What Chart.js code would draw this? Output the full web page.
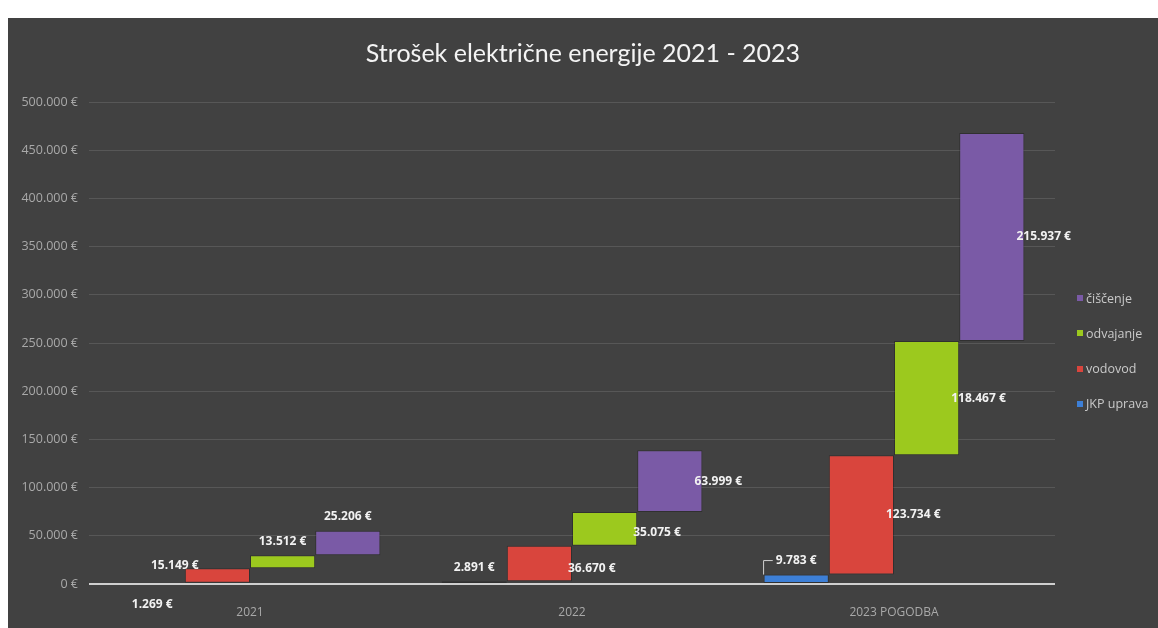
<!DOCTYPE html>
<html>
<head>
<meta charset="utf-8">
<script src="https://cdn.jsdelivr.net/npm/chart.js@4.4.1/dist/chart.umd.min.js"></script>
<style>
  body { margin: 0; background: #ffffff; width: 1158px; height: 628px; overflow: hidden; }
  #frame { position: absolute; left: 8px; top: 18px; width: 1150px; height: 610px; background: #414141; }
  #costChart { position: absolute; left: 0; top: 0; }
  #costChart-title { position: absolute; left: 0; top: 18px; width: 1150px; text-align: center; font-family: Lato, sans-serif; font-size: 25px; line-height: 32px; color: #f4f4f4; }
  #costChart-legend { position: absolute; left: 1069px; top: 272px; font-family: 'Open Sans', sans-serif; font-size: 12.5px; color: #c9c9c9; }
  #costChart-legend div { display: flex; align-items: center; height: 16px; margin-bottom: 19.3px; }
  #costChart-legend span.box { width: 6px; height: 6px; margin-right: 3px; }
</style>
</head>
<body>
<div id="frame">
  <canvas id="costChart" width="1150" height="610"></canvas>
  <div id="costChart-title">Strošek električne energije 2021 - 2023</div>
  <div id="costChart-legend"></div>
</div>
<script>
// Data
const categories = ['2021', '2022', '2023 POGODBA'];
const seriesNames = ['JKP uprava', 'vodovod', 'odvajanje', 'čiščenje'];
const jkpUprava = [1269, 2891, 9783];
const vodovod = [15149, 36670, 123734];
const odvajanje = [13512, 35075, 118467];
const ciscenje = [25206, 63999, 215937];
const yMax = 500000;
const yStep = 50000;

const seriesValues = [jkpUprava, vodovod, odvajanje, ciscenje];
const seriesColors = ['#3d7fd6', '#d9453d', '#9cc91e', '#7a5aa6'];

// where each value label sits (per series, per category)
const labelPlacement = [
    ['below', 'top', 'topLeader'],
    ['topLeft', 'rightBottom', 'rightMid'],
    ['top', 'rightBottom', 'rightMid'],
    ['top', 'rightMid', 'rightMid'],
];

function fmt(n) {
    return String(n).replace(/\B(?=(\d{3})+(?!\d))/g, '.') + ' €';
}

// waterfall: each series floats on top of the previous ones
let running = categories.map(() => 0);
const datasets = seriesValues.map((vals, s) => {
    const data = vals.map((v, i) => {
        const from = running[i];
        running[i] += v;
        return [from, running[i]];
    });
    return {
        label: seriesNames[s],
        data,
        backgroundColor: seriesColors[s],
        borderColor: 'rgba(0,0,0,0.25)',
        borderWidth: 1,
        borderSkipped: false,
        categoryPercentage: 0.81,
        barPercentage: 1.0,
    };
});

const valueLabels = {
    id: 'valueLabels',
    afterDatasetsDraw(chart) {
        const ctx = chart.ctx;
        const axisY = chart.scales.y.getPixelForValue(0);
        ctx.save();
        ctx.font = 'bold 12px "Open Sans", sans-serif';
        ctx.fillStyle = '#f2f2f2';
        ctx.textBaseline = 'middle';
        chart.data.datasets.forEach((ds, s) => {
            chart.getDatasetMeta(s).data.forEach((bar, i) => {
                const text = fmt(seriesValues[s][i]);
                const left = bar.x - bar.width / 2;
                const right = bar.x + bar.width / 2;
                const top = Math.min(bar.y, bar.base);
                const bottom = Math.max(bar.y, bar.base);
                const kind = labelPlacement[s][i];
                if (kind === 'below') {
                    ctx.textAlign = 'center';
                    ctx.fillText(text, bar.x, axisY + 21);
                } else if (kind === 'top') {
                    ctx.textAlign = 'center';
                    ctx.fillText(text, bar.x, top - 14);
                } else if (kind === 'topLeft') {
                    ctx.textAlign = 'center';
                    ctx.fillText(text, left - 10, top - 3);
                } else if (kind === 'topLeader') {
                    const ty = top - 14;
                    ctx.textAlign = 'center';
                    ctx.fillText(text, bar.x, ty);
                    const w = ctx.measureText(text).width;
                    ctx.strokeStyle = '#d0d0d0';
                    ctx.lineWidth = 1;
                    ctx.beginPath();
                    ctx.moveTo(left, top);
                    ctx.lineTo(left, ty);
                    ctx.lineTo(bar.x - w / 2 - 3, ty);
                    ctx.stroke();
                } else if (kind === 'rightBottom') {
                    ctx.textAlign = 'left';
                    ctx.fillText(text, right - 4, bottom - 13);
                } else if (kind === 'rightMid') {
                    ctx.textAlign = 'left';
                    ctx.fillText(text, right - 8, (top + bottom) / 2);
                }
            });
        });
        ctx.restore();
    }
};

new Chart(document.getElementById('costChart'), {
    type: 'bar',
    data: { labels: categories, datasets },
    options: {
        responsive: false,
        animation: false,
        layout: { padding: { left: 0, right: 103, top: 84, bottom: 0 } },
        plugins: {
            legend: { display: false },
            tooltip: { enabled: false },
            title: { display: false },
        },
        scales: {
            x: {
                grid: { display: false, drawTicks: false },
                border: { display: false },
                ticks: { color: '#a9a9a9', font: { family: 'Open Sans', size: 12 }, padding: 21 },
                afterFit(scale) { scale.height = 44; },
            },
            y: {
                min: 0,
                max: yMax,
                ticks: {
                    stepSize: yStep,
                    color: '#a9a9a9',
                    font: { family: 'Open Sans', size: 12.5 },
                    padding: 11,
                    callback: v => fmt(v),
                },
                grid: {
                    drawTicks: false,
                    color: c => c.tick && c.tick.value === 0 ? '#cfcfcf' : '#575757',
                    lineWidth: c => c.tick && c.tick.value === 0 ? 2 : 1,
                },
                border: { display: false },
                afterFit(scale) { scale.width = 81; },
            },
        },
    },
    plugins: [valueLabels],
});

// HTML legend, top to bottom in reverse series order
let legendHtml = '';
for (let s = seriesNames.length - 1; s >= 0; s--) {
    legendHtml += `<div><span class="box" style="background:${seriesColors[s]}"></span>${seriesNames[s]}</div>`;
}
document.getElementById('costChart-legend').innerHTML = legendHtml;
</script>
</body>
</html>
